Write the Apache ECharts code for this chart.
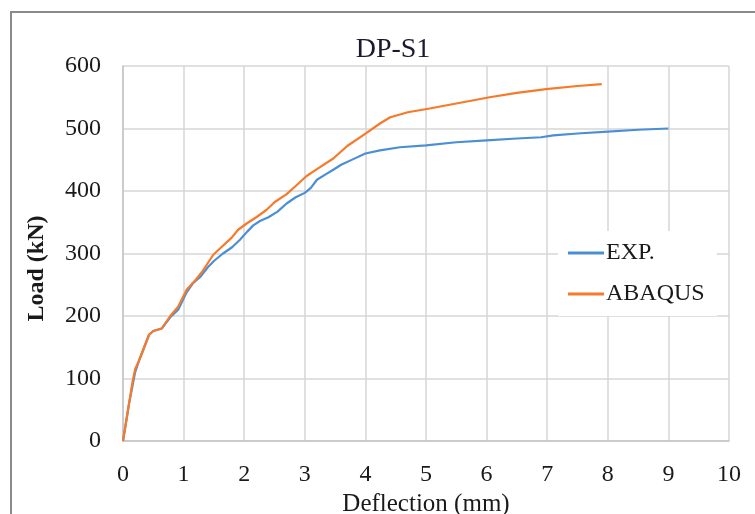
<!DOCTYPE html>
<html>
<head>
<meta charset="utf-8">
<script src="https://cdn.jsdelivr.net/npm/echarts@6/dist/echarts.min.js"></script>
<style>
  html, body { margin: 0; padding: 0; background: #fff; }
  #chart_dom { width: 755px; height: 514px; }
</style>
</head>
<body>
<div id="chart_dom"></div>
<script>
// 试验曲线 EXP.
let expX = [0, 0.1, 0.2, 0.27, 0.35, 0.43, 0.5, 0.64, 0.78, 0.91, 1.0, 1.05, 1.15, 1.27, 1.4, 1.5, 1.65, 1.8, 1.93, 2.05, 2.15, 2.26, 2.4, 2.55, 2.7, 2.85, 3.0, 3.1, 3.2, 3.35, 3.47, 3.6, 3.8, 4.0, 4.24, 4.57, 5.0, 5.5, 6.0, 6.5, 6.9, 7.1, 7.5, 8.0, 8.5, 9.0]
let expY = [0, 60, 110, 130, 150, 170, 176, 180, 198, 210, 228, 238, 252, 262, 278, 288, 300, 310, 322, 335, 345, 352, 358, 367, 380, 390, 397, 405, 418, 427, 434, 442, 451, 460, 465, 470, 473, 478, 481, 484, 486, 489, 492, 495, 498, 500]
// 有限元曲线 ABAQUS
let abaqusX = [0, 0.1, 0.16, 0.2, 0.27, 0.35, 0.43, 0.5, 0.64, 0.78, 0.91, 1.05, 1.2, 1.3, 1.49, 1.6, 1.79, 1.9, 2.04, 2.2, 2.37, 2.5, 2.7, 2.85, 3.03, 3.2, 3.47, 3.7, 4.02, 4.24, 4.41, 4.7, 5.06, 5.5, 6.05, 6.5, 6.98, 7.5, 7.9]
let abaqusY = [0, 60, 96, 115, 130, 150, 170, 176, 180, 200, 215, 242, 258, 270, 298, 308, 325, 338, 348, 358, 370, 382, 395, 408, 424, 435, 452, 472, 493, 508, 518, 526, 532, 540, 550, 557, 563, 568, 571]

let seriesNames = ['EXP.', 'ABAQUS']
let themeColor = ['#4a8fd6', '#f7792a']
let font = "'Liberation Serif', 'Times New Roman', serif"
let textColor = '#1a1a1a'
let gridColor = '#d6d6d6'

function pairs(xs, ys) {
  return xs.map((x, i) => [x, ys[i]])
}

let myChart = echarts.init(document.getElementById('chart_dom'))
let option = {
  backgroundColor: '#fff',
  animation: false,
  color: themeColor,
  title: {
    text: 'DP-S1',
    left: 388,
    top: 31,
    textAlign: 'center',
    textStyle: { fontFamily: font, fontSize: 28, fontWeight: 'normal', color: '#1a1a2e' }
  },
  // 外框
  graphic: [{
    type: 'rect',
    shape: { x: 11, y: 12, width: 800, height: 600 },
    style: { fill: 'none', stroke: '#8a8a8a', lineWidth: 2 },
    silent: true
  }],
  legend: {
    data: seriesNames,
    orient: 'vertical',
    left: 558,
    top: 231,
    padding: [10, 12, 10, 10],
    backgroundColor: '#fff',
    itemWidth: 36,
    itemHeight: 3,
    itemGap: 17,
    icon: 'rect',
    textStyle: { fontFamily: font, fontSize: 24, color: textColor, padding: [0, 0, 0, -3] }
  },
  grid: {
    left: 123,
    right: 26,
    top: 66,
    bottom: 73,
    outerBoundsMode: 'none'
  },
  xAxis: {
    type: 'value',
    min: 0,
    max: 10,
    interval: 1,
    name: 'Deflection (mm)',
    nameLocation: 'middle',
    nameGap: 47,
    nameTextStyle: { fontFamily: font, fontSize: 25, color: textColor },
    axisLine: { show: true, lineStyle: { color: '#c4c4c4', width: 1.5 } },
    axisTick: { show: false },
    axisLabel: { fontFamily: font, fontSize: 24, color: textColor, margin: 22 },
    splitLine: { show: true, lineStyle: { color: gridColor, width: 1.5 } }
  },
  yAxis: {
    type: 'value',
    min: 0,
    max: 600,
    interval: 100,
    name: 'Load (kN)',
    nameLocation: 'middle',
    nameGap: 74,
    nameTextStyle: { fontFamily: font, fontSize: 24, fontWeight: 'bold', color: textColor, padding: [0, 30, 0, 0] },
    axisLine: { show: true, lineStyle: { color: '#c4c4c4', width: 1.5 } },
    axisTick: { show: false },
    axisLabel: { fontFamily: font, fontSize: 24, color: textColor, margin: 22 },
    splitLine: { show: true, lineStyle: { color: gridColor, width: 1.5 } }
  },
  series: [
    {
      name: seriesNames[0],
      type: 'line',
      symbol: 'none',
      lineStyle: { width: 2.2 },
      data: pairs(expX, expY)
    },
    {
      name: seriesNames[1],
      type: 'line',
      symbol: 'none',
      lineStyle: { width: 2.2 },
      data: pairs(abaqusX, abaqusY)
    }
  ]
}

option && myChart.setOption(option)
</script>
</body>
</html>
